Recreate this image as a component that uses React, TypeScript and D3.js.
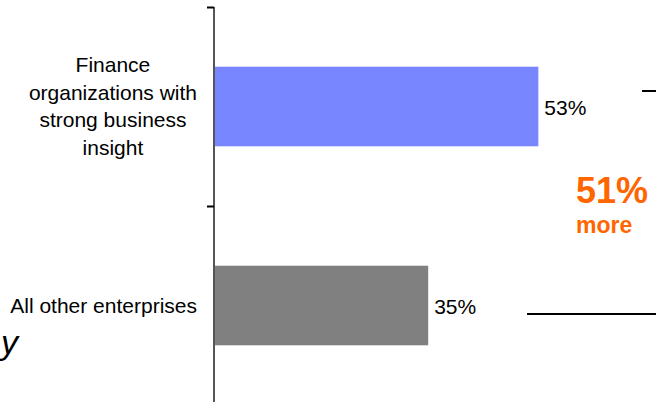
import React, { useEffect, useRef } from "react";
import * as d3 from "d3";

const categories: string[][] = [
  ["Finance", "organizations with", "strong business", "insight"],
  ["All other enterprises"],
];
const values: number[] = [53, 35];
const valueLabels: string[] = ["53%", "35%"];
const barColors: string[] = ["#7886FF", "#808080"];
const calloutValue = "51%";
const calloutWord = "more";
const clippedTitle = "y";

const W = 656;
const H = 402;

export default function App() {
  const ref = useRef<SVGSVGElement>(null);

  useEffect(() => {
    const svg = d3.select(ref.current);
    svg.selectAll("*").remove();
    const font = "Liberation Sans, Arial, Helvetica, sans-serif";

    const y = d3
      .scaleBand<number>()
      .domain(d3.range(values.length))
      .range([7, 405])
      .paddingInner(0.6)
      .paddingOuter(0.3);
    const x = d3.scaleLinear().domain([0, 100]).range([214, 826]);

    // bars
    svg
      .selectAll("rect.bar")
      .data(values)
      .join("rect")
      .attr("class", "bar")
      .attr("x", x(0))
      .attr("y", (_, i) => y(i)!)
      .attr("width", (d) => x(d) - x(0))
      .attr("height", y.bandwidth())
      .attr("fill", (_, i) => barColors[i]);

    // value labels
    svg
      .selectAll("text.val")
      .data(values)
      .join("text")
      .attr("class", "val")
      .attr("x", (d) => x(d) + 6)
      .attr("y", (_, i) => y(i)! + y.bandwidth() / 2 + 8)
      .attr("font-family", font)
      .attr("font-size", 21)
      .attr("fill", "#000")
      .text((_, i) => valueLabels[i]);

    // axis line
    svg
      .append("line")
      .attr("x1", x(0))
      .attr("x2", x(0))
      .attr("y1", 7)
      .attr("y2", H)
      .attr("stroke", "#555")
      .attr("stroke-width", 2);
    // ticks at band boundaries
    const step = y.step();
    [7, 7 + step].forEach((ty) => {
      svg
        .append("line")
        .attr("x1", x(0) - 7)
        .attr("x2", x(0))
        .attr("y1", ty + 0.5)
        .attr("y2", ty + 0.5)
        .attr("stroke", "#000")
        .attr("stroke-width", 2);
    });

    // category labels
    const rightEdge = 197;
    const lh = 27.7;
    categories.forEach((lines, i) => {
      const g = svg.append("g");
      const cy = y(i)! + y.bandwidth() / 2;
      const top = cy - ((lines.length - 1) * lh) / 2 + 7;
      const texts = lines.map((l, j) =>
        g
          .append("text")
          .attr("y", top + j * lh)
          .attr("font-family", font)
          .attr("font-size", 21)
          .attr("text-anchor", "middle")
          .attr("fill", "#000")
          .text(l)
      );
      const maxW = d3.max(texts, (t) => (t.node() as SVGTextElement).getComputedTextLength()) || 0;
      texts.forEach((t) => t.attr("x", rightEdge - maxW / 2));
    });

    // callout
    svg
      .append("text")
      .attr("x", 576)
      .attr("y", 203)
      .attr("font-family", font)
      .attr("font-size", 36)
      .attr("font-weight", "bold")
      .attr("fill", "#FF6600")
      .text(calloutValue);
    svg
      .append("text")
      .attr("x", 576)
      .attr("y", 233)
      .attr("font-family", font)
      .attr("font-size", 23)
      .attr("font-weight", "bold")
      .attr("fill", "#FF6600")
      .text(calloutWord);

    // bracket lines
    svg
      .append("line")
      .attr("x1", 642)
      .attr("x2", W)
      .attr("y1", 91)
      .attr("y2", 91)
      .attr("stroke", "#000")
      .attr("stroke-width", 2);
    svg
      .append("line")
      .attr("x1", 527)
      .attr("x2", W)
      .attr("y1", 314)
      .attr("y2", 314)
      .attr("stroke", "#000")
      .attr("stroke-width", 2);

    // title fragment at left edge
    svg
      .append("text")
      .attr("x", 1)
      .attr("y", 354)
      .attr("font-family", font)
      .attr("font-size", 34)
      .attr("font-style", "italic")
      .attr("fill", "#000")
      .text(clippedTitle);
  }, []);

  return (
    <svg
      ref={ref}
      width={W}
      height={H}
      style={{ position: "absolute", left: 0, top: 0, background: "#fff" }}
    />
  );
}
